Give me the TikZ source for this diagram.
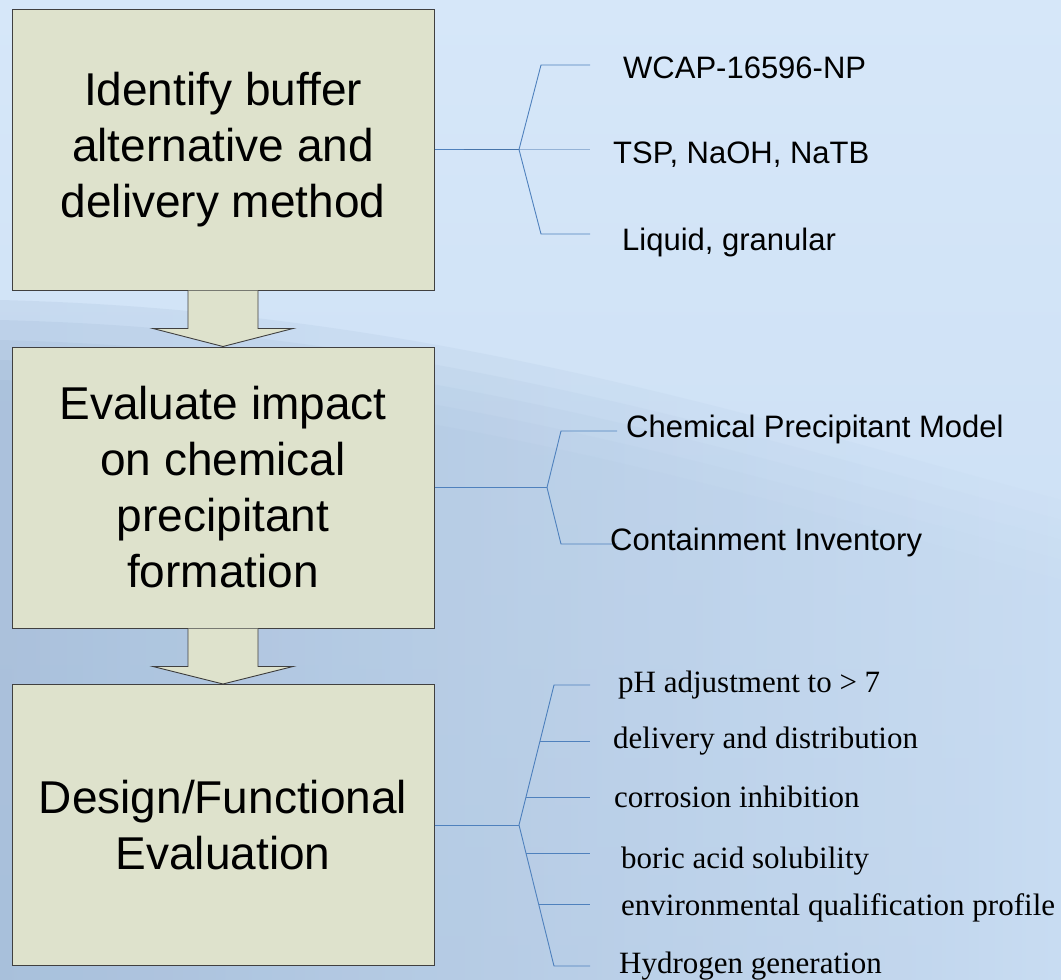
\documentclass[tikz,border=0pt]{standalone}
\usepackage{fontspec}
\setmainfont{Liberation Sans}
\newfontfamily\timesfont{Liberation Serif}
\usetikzlibrary{calc}
\definecolor{boxfill}{RGB}{222,226,204}
\definecolor{boxline}{RGB}{64,64,64}
\definecolor{brk}{RGB}{79,129,189}
\definecolor{bgtop}{RGB}{214,231,249}
\definecolor{bgmid}{RGB}{200,220,242}
\definecolor{bgdark}{RGB}{155,180,210}
\tikzset{
  box/.style={draw=boxline, fill=boxfill, line width=1pt, align=center, inner sep=0pt,
    minimum width=422pt, minimum height=281pt, font=\fontsize{46}{56}\selectfont},
  lbl/.style={anchor=base west, inner sep=0pt, font=\fontsize{31}{37}\selectfont},
  slbl/.style={anchor=base west, inner sep=0pt, font=\timesfont\fontsize{31}{37}\selectfont},
  brkline/.style={draw=brk, line width=0.9pt},
  flowarrow/.style={fill=boxfill},
  flowedge/.style={draw=boxline, line width=0.9pt},
  bgveil/.style={left color=bgdark, right color=bgmid, opacity=0.2}
}
\begin{document}
\begin{tikzpicture}[x=1pt,y=-1pt]
% background
\useasboundingbox (0,0) rectangle (1061,980);
\shade[top color=bgtop, bottom color=bgmid] (0,0) rectangle (1061,980);
\foreach \d in {0,20,40,60,80}{
  \shade[bgveil]
    (0,300+\d) .. controls (400,310+\d) and (700,400+\d) .. (1061,500+\d) -- (1061,980) -- (0,980) -- cycle;
}

% boxes
\node[box] (b1) at (223,149.5) {Identify buffer\\alternative and\\delivery method};
\node[box] (b2) at (223,487.5) {Evaluate impact\\on chemical\\precipitant\\formation};
\node[box] (b3) at (223,825) {Design/Functional\\Evaluation};

% block arrows
\fill[flowarrow] ($(b1.south)+(-35,0)$) -- ($(b1.south)+(-35,38)$) -- ($(b1.south)+(-70,38)$) -- (b2.north)
  -- ($(b1.south)+(70,38)$) -- ($(b1.south)+(35,38)$) -- ($(b1.south)+(35,0)$) -- cycle;
\draw[flowedge] ($(b1.south)+(-35,0)$) -- ($(b1.south)+(-35,38)$) -- ($(b1.south)+(-70,38)$) -- (b2.north)
  -- ($(b1.south)+(70,38)$) -- ($(b1.south)+(35,38)$) -- ($(b1.south)+(35,0)$);
\fill[flowarrow] ($(b2.south)+(-35,0)$) -- ($(b2.south)+(-35,38)$) -- ($(b2.south)+(-70,38)$) -- (b3.north)
  -- ($(b2.south)+(70,38)$) -- ($(b2.south)+(35,38)$) -- ($(b2.south)+(35,0)$) -- cycle;
\draw[flowedge] ($(b2.south)+(-35,0)$) -- ($(b2.south)+(-35,38)$) -- ($(b2.south)+(-70,38)$) -- (b3.north)
  -- ($(b2.south)+(70,38)$) -- ($(b2.south)+(35,38)$) -- ($(b2.south)+(35,0)$);

% group 1
\coordinate (s1) at (519,149.5);
\coordinate (a1t) at (541,65);
\coordinate (a1b) at (541,234);
\coordinate (e1t) at (590,65);
\coordinate (e1m) at (590,149.5);
\coordinate (e1b) at (590,234);
\draw[brkline] (b1.east) -- (s1);
\draw[brkline, line width=1.8pt, draw=brk!90!black] ($(b1.east)+(29,0)$) -- (s1);
\draw[brkline, draw=brk!60] (s1) -- (e1m);
\draw[brkline] (e1t) -- (a1t) -- (s1) -- (a1b) -- (e1b);
\node[lbl] (t11) at (623,78) {WCAP-16596-NP};
\node[lbl] (t12) at (613,163) {TSP, NaOH, NaTB};
\node[lbl] (t13) at (622,250) {Liquid, granular};

% group 2
\coordinate (s2) at (547,487.5);
\coordinate (a2t) at (561,431);
\coordinate (a2b) at (561,544);
\coordinate (e2t) at (617,431);
\coordinate (e2b) at (617,544);
\draw[brkline] (b2.east) -- (s2);
\draw[brkline] (e2t) -- (a2t) -- (s2) -- (a2b) -- (e2b);
\node[lbl] (t21) at (626,437) {Chemical Precipitant Model};
\node[lbl] (t22) at (610,550) {Containment Inventory};

% group 3
\coordinate (s3) at (519,825);
\coordinate (a3t) at (554,685);
\coordinate (a3b) at (554,966);
\coordinate (p32) at ($(s3)!0.6!(a3t)$);
\coordinate (p33) at ($(s3)!0.2!(a3t)$);
\coordinate (p34) at ($(s3)!0.2!(a3b)$);
\coordinate (p35) at ($(s3)!0.56!(a3b)$);
\coordinate (e31) at (590,685);
\coordinate (e36) at (590,966);
\draw[brkline] (b3.east) -- (s3);
\draw[brkline] (e31) -- (a3t) -- (s3) -- (a3b) -- (e36);
\foreach \p in {p32,p33,p34,p35}{
  \draw[brkline] (\p) -- (\p -| e31);
}
\node[slbl] (t31) at (618,692) {pH adjustment to > 7};
\node[slbl] (t32) at (613,748) {delivery and distribution};
\node[slbl] (t33) at (614,807) {corrosion inhibition};
\node[slbl] (t34) at (621,868) {boric acid solubility};
\node[slbl] (t35) at (621,915) {environmental qualification profile};
\node[slbl] (t36) at (619,973) {Hydrogen generation};
\end{tikzpicture}
\end{document}
